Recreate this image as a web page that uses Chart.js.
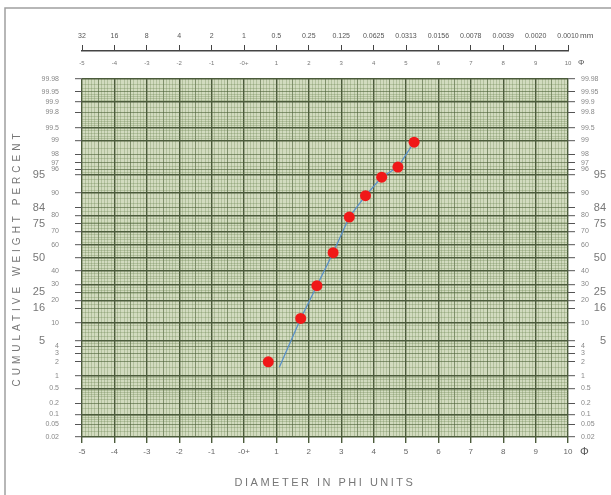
<!DOCTYPE html>
<html><head><meta charset="utf-8">
<script src="https://cdn.jsdelivr.net/npm/chart.js@4"></script>
<style>html,body{margin:0;padding:0;background:#fff;}#wrap{width:611px;height:495px;position:relative;}</style>
</head><body><div id="wrap"><canvas id="c" width="611" height="495"></canvas></div>
<script>
// ---- data ----
const phiValues    = [0.75, 1.75, 2.25, 2.75, 3.25, 3.75, 4.25, 4.75, 5.25];
const cumPercent   = [2.0, 11.6, 29.2, 54.2, 79.1, 89.1, 94.5, 96.4, 98.9];
const curvePhi     = [1.09, 1.75, 2.25, 2.75, 3.25, 3.75, 4.25, 4.75, 5.25];
const curvePercent = [1.54, 11.6, 29.2, 54.2, 79.1, 89.1, 94.5, 96.4, 98.9];
const phiTicks      = [-5,-4,-3,-2,-1,0,1,2,3,4,5,6,7,8,9,10];
const phiTickLabels = ['-5','-4','-3','-2','-1','-0+','1','2','3','4','5','6','7','8','9','10'];
const mmTickLabels  = ['32','16','8','4','2','1','0.5','0.25','0.125','0.0625','0.0313','0.0156','0.0078','0.0039','0.0020','0.0010'];
const pctSmallLabels = [0.02,0.05,0.1,0.2,0.5,1,2,3,4,10,20,30,40,60,70,80,90,96,97,98,99,99.5,99.8,99.9,99.95,99.98];
const pctBigLabels   = [5,16,25,50,75,84,95];
const pctDarkLines   = [0.02,0.1,0.5,1,5,10,20,30,40,50,60,70,80,90,95,99,99.5,99.9,99.98];

// ---- grid helpers (paper ruling) ----
function range(a,b,s){const o=[];for(let v=a;v<=b+1e-9;v+=s)o.push(+v.toFixed(4));return o;}
const yGrid=[...new Set([
  ...range(0.02,0.1,0.01),...range(0.1,0.5,0.05),...range(0.5,1,0.1),...range(1,5,0.5),...range(5,10,1),
  ...range(10,90,2),...range(90,95,1),...range(95,99,0.5),...range(99,99.5,0.1),...range(99.5,99.9,0.05),
  ...range(99.9,99.98,0.01),...pctSmallLabels,...pctBigLabels])].sort((a,b)=>a-b);
const xGrid=range(-5,10,0.1);

// ---- probability (probit) scale ----
function probit(p){
  const a=[-39.69683028665376,220.9460984245205,-275.9285104469687,138.3577518672690,-30.66479806614716,2.506628277459239];
  const b=[-54.47609879822406,161.5858368580409,-155.6989798598866,66.80131188771972,-13.28068155288572];
  const c=[-0.007784894002430293,-0.3223964580411365,-2.400758277161838,-2.549732539343734,4.374664141464968,2.938163982698783];
  const d=[0.007784695709041462,0.3224671290700398,2.445134137142996,3.754408661907416];
  const pl=0.02425;let q,r;
  if(p<pl){q=Math.sqrt(-2*Math.log(p));return (((((c[0]*q+c[1])*q+c[2])*q+c[3])*q+c[4])*q+c[5])/((((d[0]*q+d[1])*q+d[2])*q+d[3])*q+1);}
  if(p<=1-pl){q=p-0.5;r=q*q;return (((((a[0]*r+a[1])*r+a[2])*r+a[3])*r+a[4])*r+a[5])*q/(((((b[0]*r+b[1])*r+b[2])*r+b[3])*r+b[4])*r+1);}
  q=Math.sqrt(-2*Math.log(1-p));return -(((((c[0]*q+c[1])*q+c[2])*q+c[3])*q+c[4])*q+c[5])/((((d[0]*q+d[1])*q+d[2])*q+d[3])*q+1);
}
function ncdf(z){const t=1/(1+0.2316419*Math.abs(z));const y=t*(0.319381530+t*(-0.356563782+t*(1.781477937+t*(-1.821255978+t*1.330274429))));const p=1-0.3989422804*Math.exp(-z*z/2)*y;return z>=0?p:1-p;}
class ProbitScale extends Chart.Scale{
  determineDataLimits(){this.min=this.options.min;this.max=this.options.max;}
  buildTicks(){return (this.options.tickValues||[]).map(v=>({value:v}));}
  getLabelForValue(v){return String(v);}
  configure(){super.configure();this._z0=probit(this.min/100);this._z1=probit(this.max/100);}
  getPixelForValue(v){return this.getPixelForDecimal((probit(v/100)-this._z0)/(this._z1-this._z0));}
  getValueForPixel(px){const d=this.getDecimalForPixel(px);return 100*ncdf(this._z0+d*(this._z1-this._z0));}
  _computeLabelArea(){return undefined;}
}
ProbitScale.id='probit';ProbitScale.defaults={};
Chart.register(ProbitScale);

const FONT='"Liberation Sans", Arial, sans-serif';
const DARK='#4b5b3b', MED='rgba(75,95,55,0.6)', FINE='rgba(105,130,80,0.3)';
const isDarkY=v=>pctDarkLines.includes(v);
const isLabY=v=>pctSmallLabels.includes(v)||pctBigLabels.includes(v);
const isInt=v=>Math.abs(v-Math.round(v))<1e-6;
const isHalf=v=>Math.abs(v*2-Math.round(v*2))<1e-6;

const yGridOpts={
  color:c=>isDarkY(c.tick.value)?DARK:(isLabY(c.tick.value)?MED:FINE),
  lineWidth:c=>isDarkY(c.tick.value)?1.4:1,
  tickColor:c=>isLabY(c.tick.value)?'#555':'rgba(0,0,0,0)',
  tickWidth:1, tickLength:7
};

const decor={
  id:'decor',
  beforeDraw(chart){
    const {ctx,chartArea:a}=chart;
    ctx.save();
    ctx.fillStyle='#fff';ctx.fillRect(0,0,chart.width,chart.height);
    ctx.strokeStyle='#a0a0a0';ctx.lineWidth=1.5;
    ctx.beginPath();ctx.moveTo(5,495);ctx.lineTo(5,8);ctx.lineTo(611,8);ctx.stroke();
    ctx.fillStyle='#d2dbbf';ctx.fillRect(a.left,a.top,a.right-a.left,a.bottom-a.top);
    ctx.restore();
    const sp={x:'2.5px',yBig:'4px'};
    for(const id in sp){const s=chart.scales[id];if(s&&!s._ls){s._ls=true;s.drawTitle=function(){const c=this.ctx;c.save();c.letterSpacing=sp[id];Chart.Scale.prototype.drawTitle.call(this);c.restore();};}}
  },
  afterDraw(chart){
    const {ctx}=chart;const x=chart.scales.x;const x10=x.getPixelForValue(10);
    ctx.save();ctx.fillStyle='#555';ctx.textBaseline='middle';ctx.textAlign='left';
    ctx.font='11px '+FONT;ctx.fillText('\u03A6',x10+12,452);
    ctx.font='8px '+FONT;ctx.fillText('\u03A6',x10+10,63);
    ctx.font='8px '+FONT;ctx.fillText('mm',x10+12,36);
    ctx.restore();
  }
};

new Chart(document.getElementById('c'),{
  type:'scatter',
  data:{datasets:[
    {label:'points',data:phiValues.map((v,i)=>({x:v,y:cumPercent[i]})),backgroundColor:'#f01818',borderWidth:0,pointRadius:5.5,xAxisID:'x',yAxisID:'y',order:0},
    {label:'curve',data:curvePhi.map((v,i)=>({x:v,y:curvePercent[i]})),showLine:true,borderColor:'#5a90c8',borderWidth:1.3,pointRadius:0,fill:false,xAxisID:'x',yAxisID:'y',order:1}
  ]},
  options:{
    responsive:false,animation:false,events:[],
    layout:{padding:{left:0,top:0,right:5,bottom:0}},
    plugins:{legend:{display:false},tooltip:{enabled:false}},
    scales:{
      x:{type:'linear',position:'bottom',min:-5,max:10,weight:0,
        afterBuildTicks:s=>{s.ticks=xGrid.map(v=>({value:v}));},
        afterFit:s=>{s.height=58;},
        ticks:{autoSkip:false,maxRotation:0,minRotation:0,padding:4,color:'#666',font:{size:8,family:FONT},
          callback:v=>{const i=phiTicks.findIndex(t=>Math.abs(t-v)<1e-6);return i>=0?phiTickLabels[i]:'';}},
        grid:{color:c=>isInt(c.tick.value)?DARK:(isHalf(c.tick.value)?MED:FINE),lineWidth:c=>isInt(c.tick.value)?1.4:1,
          tickColor:c=>isInt(c.tick.value)?DARK:'rgba(0,0,0,0)',tickLength:6},
        border:{display:false},
        title:{display:true,text:'DIAMETER IN PHI UNITS',color:'#777',font:{size:11,family:FONT},padding:{top:0,bottom:5}}
      },
      x3:{type:'linear',position:'top',min:-5,max:10,weight:0,
        afterBuildTicks:s=>{s.ticks=phiTicks.map(v=>({value:v}));},
        afterFit:s=>{s.height=28;},
        ticks:{autoSkip:false,maxRotation:0,minRotation:0,padding:12,color:'#777',font:{size:6,family:FONT},
          callback:v=>phiTickLabels[phiTicks.indexOf(v)]},
        grid:{drawOnChartArea:false,drawTicks:false},border:{display:false}
      },
      x2:{type:'linear',position:'top',min:-5,max:10,weight:1,
        afterBuildTicks:s=>{s.ticks=phiTicks.map(v=>({value:v}));},
        afterFit:s=>{s.height=51;},
        ticks:{autoSkip:false,maxRotation:0,minRotation:0,padding:5,color:'#555',font:{size:7,family:FONT},
          callback:v=>mmTickLabels[phiTicks.indexOf(v)]},
        grid:{drawOnChartArea:false,drawTicks:true,tickLength:6,tickColor:'#444',lineWidth:1},
        border:{display:true,color:'#444',width:1.5}
      },
      y:{type:'probit',position:'left',min:0.02,max:99.98,weight:0,tickValues:yGrid,
        afterFit:s=>{s.width=35;},
        ticks:{autoSkip:false,padding:16,color:'#888',font:{size:7,family:FONT},callback:v=>pctSmallLabels.includes(v)?String(v):''},
        grid:yGridOpts,border:{display:false}
      },
      yBig:{type:'probit',position:'left',min:0.02,max:99.98,weight:1,tickValues:pctBigLabels,
        afterFit:s=>{s.width=47;},
        ticks:{autoSkip:false,padding:2,color:'#777',font:{size:11,family:FONT},callback:v=>String(v)},
        grid:{drawOnChartArea:false,drawTicks:false},border:{display:false},
        title:{display:true,text:'CUMULATIVE WEIGHT PERCENT',color:'#777',font:{size:10,family:FONT},padding:{top:11,bottom:0}}
      },
      yR:{type:'probit',position:'right',min:0.02,max:99.98,weight:0,tickValues:yGrid,
        afterFit:s=>{s.width=22;},
        ticks:{autoSkip:false,padding:6,color:'#888',font:{size:7,family:FONT},callback:v=>pctSmallLabels.includes(v)?String(v):''},
        grid:Object.assign({},yGridOpts,{drawOnChartArea:false}),border:{display:false}
      },
      yRBig:{type:'probit',position:'right',min:0.02,max:99.98,weight:1,tickValues:pctBigLabels,
        afterFit:s=>{s.width=16;},
        ticks:{autoSkip:false,padding:0,crossAlign:'far',color:'#777',font:{size:11,family:FONT},callback:v=>String(v)},
        grid:{drawOnChartArea:false,drawTicks:false},border:{display:false}
      }
    }
  },
  plugins:[decor]
});
</script></body></html>
